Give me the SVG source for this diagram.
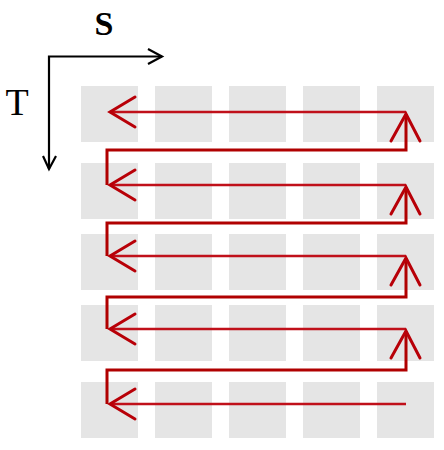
<svg xmlns="http://www.w3.org/2000/svg" width="444" height="450" viewBox="0 0 444 450">
<style>
.cell{fill:#e5e5e5}
.lbl{font-family:"Liberation Serif","Times New Roman",serif;fill:#000;text-anchor:middle}
.axis{stroke:#000;stroke-width:2.2;fill:none}
.row{stroke:#c0101a;stroke-width:2.4;fill:none}
.brk{stroke:#b00000;stroke-width:3;fill:none}
.head{stroke:#b80008;stroke-width:3;fill:none;stroke-linecap:round;stroke-linejoin:miter}
</style>
<rect width="444" height="450" fill="#fff"/>
<g id="grid">
<rect class="cell" x="81" y="86" width="57" height="56"/><rect class="cell" x="155" y="86" width="57" height="56"/><rect class="cell" x="229" y="86" width="57" height="56"/><rect class="cell" x="303" y="86" width="57" height="56"/><rect class="cell" x="377" y="86" width="57" height="56"/>
<rect class="cell" x="81" y="163" width="57" height="56"/><rect class="cell" x="155" y="163" width="57" height="56"/><rect class="cell" x="229" y="163" width="57" height="56"/><rect class="cell" x="303" y="163" width="57" height="56"/><rect class="cell" x="377" y="163" width="57" height="56"/>
<rect class="cell" x="81" y="234" width="57" height="56"/><rect class="cell" x="155" y="234" width="57" height="56"/><rect class="cell" x="229" y="234" width="57" height="56"/><rect class="cell" x="303" y="234" width="57" height="56"/><rect class="cell" x="377" y="234" width="57" height="56"/>
<rect class="cell" x="81" y="305" width="57" height="56"/><rect class="cell" x="155" y="305" width="57" height="56"/><rect class="cell" x="229" y="305" width="57" height="56"/><rect class="cell" x="303" y="305" width="57" height="56"/><rect class="cell" x="377" y="305" width="57" height="56"/>
<rect class="cell" x="81" y="382" width="57" height="56"/><rect class="cell" x="155" y="382" width="57" height="56"/><rect class="cell" x="229" y="382" width="57" height="56"/><rect class="cell" x="303" y="382" width="57" height="56"/><rect class="cell" x="377" y="382" width="57" height="56"/>
</g>
<g id="axes">
<path class="axis" d="M49,56.5 H162 M49,55.5 V169"/>
<path class="axis" d="M148,49 L162,56.5 L148,64"/>
<path class="axis" d="M43,156 L49,169 L56,156"/>
<text class="lbl" x="104" y="35" font-size="34" font-weight="bold">S</text>
<text class="lbl" x="17" y="115" font-size="38">T</text>
</g>
<g id="connectors">
<path class="row" d="M406,112 H110"/>
<path class="row" d="M406,185 H110"/>
<path class="row" d="M406,256 H110"/>
<path class="row" d="M406,329 H110"/>
<path class="row" d="M406,404 H110"/>
<path class="brk" d="M107,185 V150 H406 V114"/>
<path class="brk" d="M107,256 V223 H406 V187"/>
<path class="brk" d="M107,329 V297 H406 V258"/>
<path class="brk" d="M107,404 V370 H406 V331"/>
<path class="head" d="M135,97 L110,112 L135,127"/>
<path class="head" d="M135,170 L110,185 L135,200"/>
<path class="head" d="M135,241 L110,256 L135,271"/>
<path class="head" d="M135,314 L110,329 L135,344"/>
<path class="head" d="M135,389 L110,404 L135,419"/>
<path class="head" d="M391,141 L406,114 L420,141"/>
<path class="head" d="M391,214 L406,187 L420,214"/>
<path class="head" d="M391,285 L406,258 L420,285"/>
<path class="head" d="M391,358 L406,331 L420,358"/>
</g>
</svg>
